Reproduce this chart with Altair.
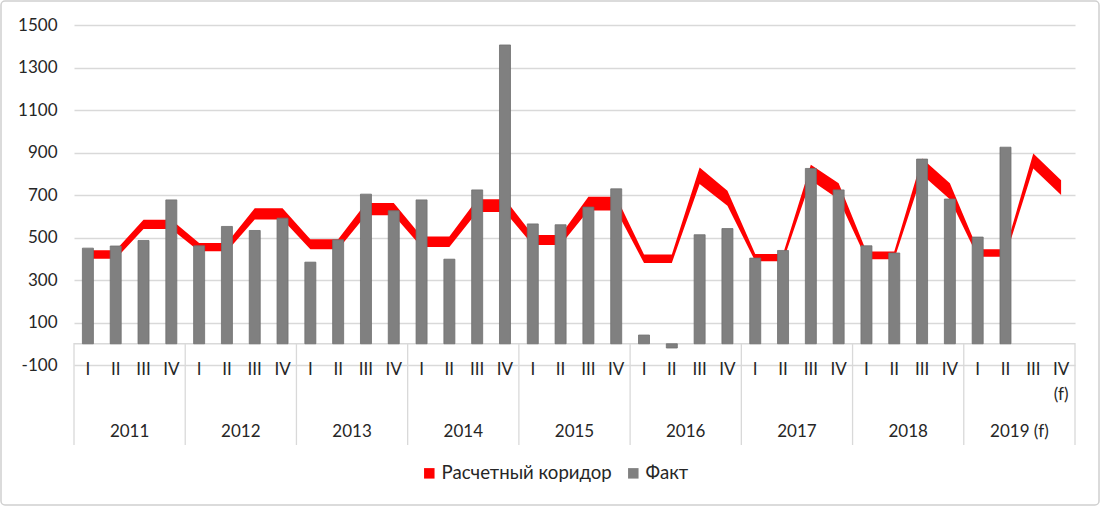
import altair as alt
import pandas as pd

years = ["2011", "2012", "2013", "2014", "2015", "2016", "2017", "2018", "2019 (f)"]
quarters = ["I", "II", "III", "IV"]
forecast_note = "(f)"

fact = [450, 460, 486, 677,
        461, 552, 533, 591,
        384, 489, 704, 626,
        677, 398, 724, 1406,
        564, 560, 643, 729,
        41, -20, 513, 542,
        403, 439, 825, 724,
        461, 427, 869, 681,
        502, 925, None, None]

corridor_low = [400, 400, 540, 540,
                435, 435, 585, 585,
                445, 445, 605, 605,
                455, 455, 620, 620,
                465, 465, 627, 627,
                380, 380, 752, 650,
                388, 388, 770, 680,
                398, 398, 795, 680,
                410, 410, 825, 700]

corridor_high = [440, 440, 583, 583,
                 474, 474, 638, 638,
                 492, 492, 662, 662,
                 505, 505, 680, 680,
                 512, 512, 692, 692,
                 420, 420, 830, 720,
                 422, 422, 842, 755,
                 434, 434, 872, 755,
                 445, 445, 895, 770]

y_ticks = [-100, 100, 300, 500, 700, 900, 1100, 1300, 1500]

SER_BAND = "Расчетный коридор"
SER_FACT = "Факт"

n = len(years) * 4
rows = []
for i in range(n):
    lab = quarters[i % 4]
    if i == n - 1:
        lab = lab + "\n" + forecast_note
    rows.append({"pos": i + 0.5, "qlab": lab, "fact": fact[i],
                 "low": corridor_low[i], "high": corridor_high[i],
                 "s_band": SER_BAND, "s_fact": SER_FACT})
df = pd.DataFrame(rows)
df_fact = df[df["fact"].notna()]

df_years = pd.DataFrame({"center": [4 * k + 2 for k in range(len(years))], "year": years})
df_sep = pd.DataFrame({"b": [4 * k for k in range(len(years) + 1)]})
df_zero = pd.DataFrame({"x0": [0], "x1": [n], "y0": [0]})

FONT = "Lato"
TXT = "#262626"
GRID = "#d9d9d9"

xscale = alt.Scale(domain=[0, n], nice=False, zero=False, padding=0)
yscale = alt.Scale(domain=[-100, 1500], nice=False, zero=False)

color = alt.Color(
    "series:N",
    scale=alt.Scale(domain=[SER_BAND, SER_FACT], range=["#ff0000", "#808080"]),
    legend=alt.Legend(
        title=None, orient="none", direction="horizontal",
        legendX=346, legendY=439,
        symbolType="square", symbolSize=110, symbolStrokeWidth=0,
        labelFont=FONT, labelFontSize=18.6, labelColor=TXT, labelLimit=400,
        labelOffset=3, columnPadding=12,
    ),
)

base = alt.Chart(df)

border = alt.Chart(df_zero).mark_rect(
    filled=False, stroke="#d0d0d0", strokeWidth=1.5, cornerRadius=4
).encode(x=alt.value(-73), x2=alt.value(1025), y=alt.value(-24), y2=alt.value(480))

grid_axis = alt.Chart(df_zero).mark_rule(opacity=0).encode(
    y=alt.Y("y0:Q", scale=yscale,
            axis=alt.Axis(values=y_ticks, title=None, ticks=False, domain=False,
                          grid=True, gridColor=GRID, gridWidth=1.3,
                          labelExpr="'' + datum.value",
                          labelFont=FONT, labelFontSize=17, labelColor=TXT,
                          labelPadding=17)),
)

zero_rule = alt.Chart(df_zero).mark_rule(color=GRID, strokeWidth=1.3).encode(
    x=alt.X("x0:Q", scale=xscale, axis=None), x2="x1:Q",
    y=alt.Y("y0:Q", scale=yscale),
)

seps = alt.Chart(df_sep).mark_rule(color=GRID, strokeWidth=1.3).encode(
    x=alt.X("b:Q", scale=xscale, axis=None),
    y=alt.value(318),
    y2=alt.value(420),
)

band = alt.Chart(df).transform_calculate(series="datum.s_band").mark_area(
    interpolate="linear"
).encode(
    x=alt.X("pos:Q", scale=xscale, axis=None),
    y=alt.Y("low:Q", scale=yscale),
    y2="high:Q",
    color=color,
)

bars = alt.Chart(df_fact).transform_calculate(series="datum.s_fact").mark_bar(
    size=11, stroke="#6f6f6f", strokeWidth=0.8
).encode(
    x=alt.X("pos:Q", scale=xscale, axis=None),
    y=alt.Y("fact:Q", scale=yscale),
    color=color,
)

qtext = base.mark_text(
    font=FONT, fontSize=17, color=TXT, baseline="top", lineBreak="\n", lineHeight=25
).encode(
    x=alt.X("pos:Q", scale=xscale, axis=None),
    y=alt.value(337),
    text="qlab:N",
)

ytext = alt.Chart(df_years).mark_text(
    font=FONT, fontSize=17, color=TXT, baseline="middle"
).encode(
    x=alt.X("center:Q", scale=xscale, axis=None),
    y=alt.value(407),
    text="year:N",
)

chart = alt.layer(
    border, grid_axis, zero_rule, seps, band, bars, qtext, ytext
).properties(
    width=1001, height=340,
    autosize=alt.AutoSizeParams(type="none"),
    padding={"left": 74, "top": 25, "right": 25, "bottom": 142},
    background="white",
).configure_view(stroke=None)

chart.save("out.html", embed_options={"renderer": "svg", "actions": False})
